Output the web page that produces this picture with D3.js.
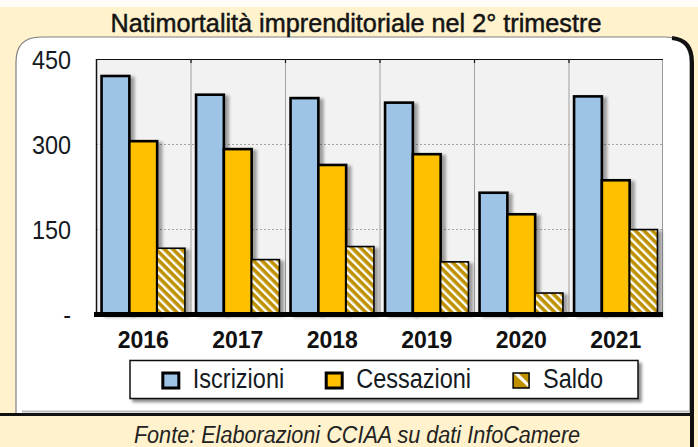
<!DOCTYPE html>
<html><head><meta charset="utf-8">
<script src="https://cdn.jsdelivr.net/npm/d3@7"></script>
<style>body{margin:0;background:#fff2cc}svg{display:block}</style>
</head><body>
<svg id="c" width="698" height="447"></svg>
<script>
// ---- data ----
const years = ["2016","2017","2018","2019","2020","2021"];
const series = ["Iscrizioni","Cessazioni","Saldo"];
const iscrizioni = [420, 387, 381, 373, 214, 384];
const cessazioni = [305, 291, 263, 282, 176, 236];
const saldo = [116, 96, 119, 92, 37, 149];
const yTicks = [0, 150, 300, 450];
const yTickLabels = ["-", "150", "300", "450"];
const titleText = "Natimortalità imprenditoriale nel 2° trimestre";
const sourceText = "Fonte: Elaborazioni CCIAA su dati InfoCamere";

const values = {Iscrizioni: iscrizioni, Cessazioni: cessazioni, Saldo: saldo};
const colors = {Iscrizioni: "#9dc3e6", Cessazioni: "#ffc000", Saldo: "url(#hatch)"};
const FONT = "'Liberation Sans', Arial, sans-serif";

const svg = d3.select("#c");
function squeeze(sel, k){
  sel.each(function(){
    const w = this.getComputedTextLength();
    this.setAttribute("textLength", w * k);
    this.setAttribute("lengthAdjust", "spacingAndGlyphs");
  });
}

// ---- defs ----
const defs = svg.append("defs");
const pat = defs.append("pattern").attr("id","hatch").attr("patternUnits","userSpaceOnUse")
  .attr("width",6).attr("height",6).attr("patternTransform","rotate(-45)");
pat.append("rect").attr("width",6).attr("height",6).attr("fill","#bf9000");
pat.append("rect").attr("x",0).attr("width",2.4).attr("height",6).attr("fill","#ffffff");
const sh = defs.append("filter").attr("id","shadow").attr("x","-20%").attr("y","-20%").attr("width","160%").attr("height","160%");
sh.append("feDropShadow").attr("dx",4).attr("dy",2).attr("stdDeviation",1.5).attr("flood-color","#000").attr("flood-opacity",0.35);
const sh2 = defs.append("filter").attr("id","shadow2").attr("x","-10%").attr("y","-30%").attr("width","120%").attr("height","180%");
sh2.append("feDropShadow").attr("dx",3).attr("dy",3).attr("stdDeviation",1.5).attr("flood-color","#000").attr("flood-opacity",0.45);

// ---- frame ----
svg.append("rect").attr("width",698).attr("height",447).attr("fill","#fff2cc");
svg.append("rect").attr("width",698).attr("height",7).attr("fill","#fffdf6");
// panel
svg.append("path").attr("d","M16,414 V62 Q16,37 41,37 H665 Q690,37 690,62 V414 Z")
  .attr("fill","#ffffff").attr("stroke","#808080").attr("stroke-width",1.2);
svg.append("path").attr("d","M672,38 Q692,40 692,62 V447")
  .attr("fill","none").attr("stroke","#111").attr("stroke-width",4);
svg.append("line").attr("x1",0).attr("x2",692).attr("y1",414.5).attr("y2",414.5)
  .attr("stroke","#111").attr("stroke-width",3);
svg.append("line").attr("x1",22).attr("x2",690).attr("y1",411.5).attr("y2",411.5)
  .attr("stroke","#bbb").attr("stroke-width",2);

// title
svg.append("text").attr("x",356).attr("y",32).attr("text-anchor","middle")
  .attr("font-family",FONT).attr("font-size",26).attr("fill","#141414")
  .attr("stroke","#141414").attr("stroke-width",0.5)
  .text(titleText).call(squeeze,0.97);

// ---- chart ----
const L = 96, R = 663, T = 59, B = 314;
const x0 = d3.scaleBand().domain(years).range([L, R]).paddingInner(0).paddingOuter(0);
const x1 = d3.scaleBand().domain(series).range([0, x0.bandwidth()]).paddingInner(0).paddingOuter(0.2);
const y = d3.scaleLinear().domain([0, 450]).range([B, T]);

svg.append("rect").attr("x",L).attr("y",T).attr("width",R-L).attr("height",B-T).attr("fill","#f2f2f2");

// gridlines
svg.append("g").selectAll("line").data(yTicks.filter(d => d > 0 && d < 450)).join("line")
  .attr("x1",L).attr("x2",R).attr("y1",d=>y(d)+0.5).attr("y2",d=>y(d)+0.5)
  .attr("stroke","#a6a6a6").attr("stroke-width",1).attr("stroke-dasharray","2,2");
// vertical separators
const seps = years.slice(1).map(d => x0(d));
svg.append("g").selectAll("line").data(seps).join("line")
  .attr("x1",d=>d+0.5).attr("x2",d=>d+0.5).attr("y1",T).attr("y2",B)
  .attr("stroke","#a0a0a0").attr("stroke-width",1);
svg.append("g").selectAll("line").data(seps).join("line")
  .attr("x1",d=>d+0.5).attr("x2",d=>d+0.5).attr("y1",T).attr("y2",T+4)
  .attr("stroke","#111").attr("stroke-width",1.2);
// plot borders
svg.append("line").attr("x1",R-0.5).attr("x2",R-0.5).attr("y1",T).attr("y2",B).attr("stroke","#999");
svg.append("line").attr("x1",L).attr("x2",R).attr("y1",T+0.5).attr("y2",T+0.5).attr("stroke","#111").attr("stroke-width",1.2);
svg.append("line").attr("x1",L+0.5).attr("x2",L+0.5).attr("y1",T).attr("y2",B).attr("stroke","#111").attr("stroke-width",1.5);

// bars
const groups = svg.append("g").selectAll("g").data(years).join("g")
  .attr("transform", d => `translate(${x0(d)},0)`);
groups.selectAll("rect").data((yr, i) => series.map(s => ({s, v: values[s][i]}))).join("rect")
  .attr("x", d => x1(d.s)).attr("width", x1.bandwidth())
  .attr("y", d => y(d.v)).attr("height", d => y(0) - y(d.v))
  .attr("fill", d => colors[d.s]).attr("stroke","#000")
  .attr("stroke-width", d => d.s === "Saldo" ? 1.6 : 2.6)
  .attr("filter","url(#shadow)");

// bottom axis line
svg.append("line").attr("x1",L-2).attr("x2",R).attr("y1",B+0.5).attr("y2",B+0.5)
  .attr("stroke","#000").attr("stroke-width",5);

// y axis labels
const yAxis = svg.append("g").attr("transform",`translate(${L},0)`)
  .call(d3.axisLeft(y).tickValues(yTicks).tickFormat((d,i) => yTickLabels[i]).tickSize(0).tickPadding(25));
yAxis.select(".domain").remove();
yAxis.selectAll("text").attr("font-family",FONT).attr("font-size",26).attr("fill","#141a22").attr("dy","0.35em")
  .call(squeeze,0.9);

// x axis labels
const xAxis = svg.append("g").attr("transform",`translate(0,${B})`)
  .call(d3.axisBottom(x0).tickSize(0).tickPadding(17));
xAxis.select(".domain").remove();
xAxis.selectAll("text").attr("font-family",FONT).attr("font-size",24.5).attr("font-weight","bold")
  .attr("fill","#111").attr("dy","0.71em").call(squeeze,0.94);

// legend
const lg = svg.append("g");
lg.append("rect").attr("x",130).attr("y",360.5).attr("width",508).attr("height",38)
  .attr("fill","#fff").attr("stroke","#111").attr("stroke-width",1.5).attr("filter","url(#shadow2)");
const items = lg.selectAll("g.it").data(series).join("g").attr("class","it");
items.append("rect").attr("width",16).attr("height",15).attr("y",373)
  .attr("fill", d => d === "Saldo" ? "url(#hatchS)" : colors[d])
  .attr("stroke","#000").attr("stroke-width", d => d === "Saldo" ? 1.5 : 3);
items.append("text").attr("y",388).attr("font-family",FONT).attr("font-size",27).attr("fill","#141a22")
  .text(d => d).call(squeeze,0.87);
// legend swatch hatch
const pat2 = defs.append("pattern").attr("id","hatchS").attr("patternUnits","objectBoundingBox")
  .attr("width",1).attr("height",1);
pat2.append("rect").attr("width",16).attr("height",15).attr("fill","#bf9000");
pat2.append("path").attr("d","M0,0 L5,0 L16,11 L16,15 Z").attr("fill","#fff");
// position legend items
const tw = [];
items.select("text").each(function(){ tw.push(+this.getAttribute("textLength")); });
const sw = 18, gap = 12, spacing = 42;
const total = d3.sum(tw) + series.length*(sw+gap) + spacing*(series.length-1);
let cx = 383 - total/2;
items.each(function(d,i){
  d3.select(this).select("rect").attr("x", cx);
  d3.select(this).select("text").attr("x", cx + sw + gap);
  cx += sw + gap + tw[i] + spacing;
});

// source
svg.append("text").attr("x",357).attr("y",443).attr("text-anchor","middle")
  .attr("font-family",FONT).attr("font-size",23).attr("font-style","italic").attr("fill","#222")
  .text(sourceText).call(squeeze,0.94);
</script>
</body></html>
